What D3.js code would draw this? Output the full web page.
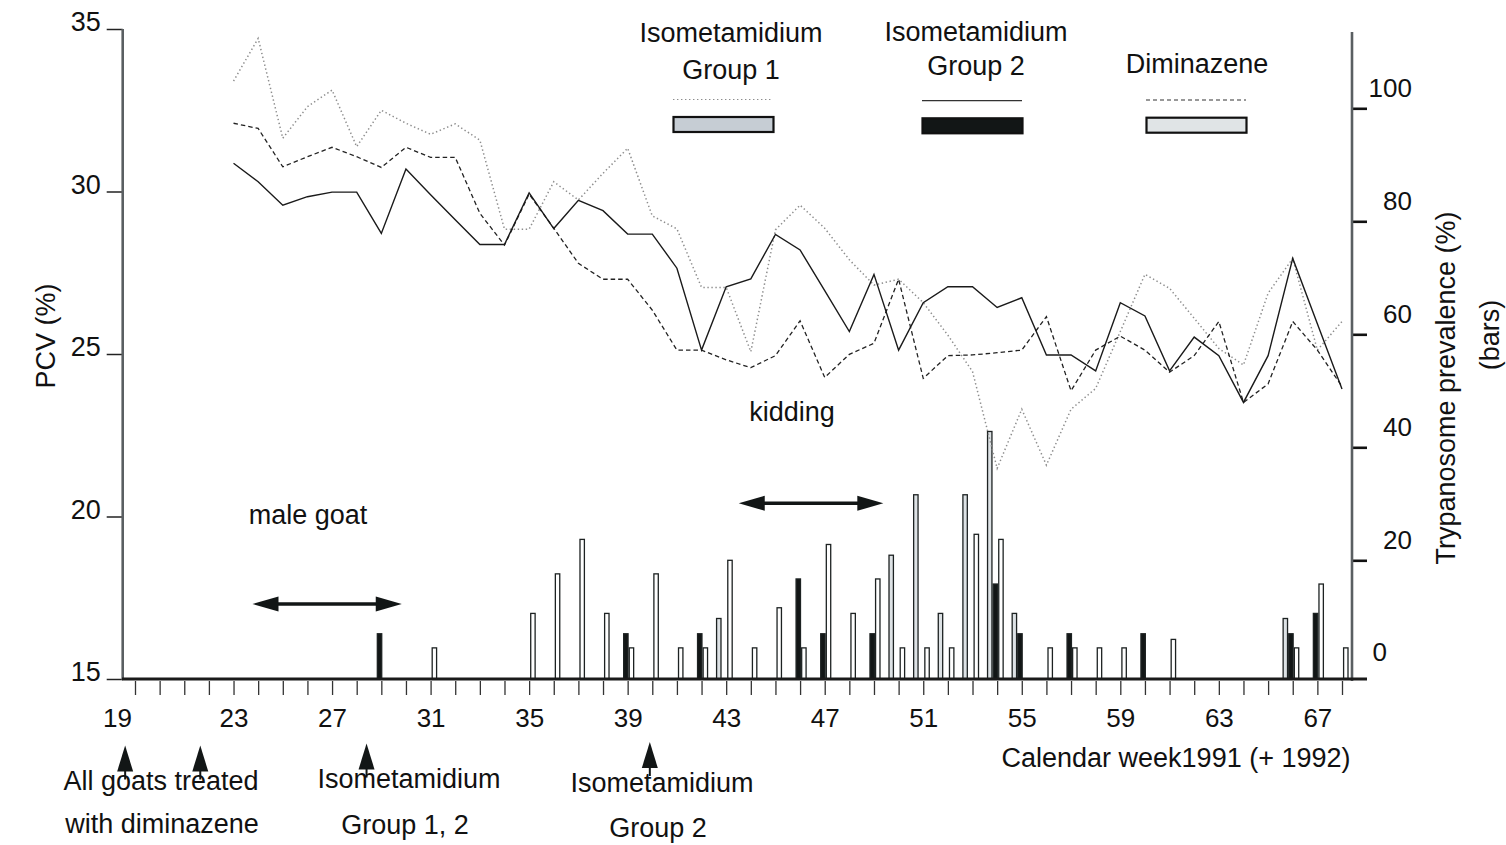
<!DOCTYPE html>
<html>
<head>
<meta charset="utf-8">
<script src="https://cdn.jsdelivr.net/npm/d3@7"></script>
<style>
  html, body { margin: 0; padding: 0; background: #ffffff; }
  svg { display: block; }
  text { font-family: "Liberation Sans", Arial, Helvetica, sans-serif; fill: #111; }
</style>
</head>
<body>
<script>
// ---------- PCV (%) per calendar week, weeks 23..68 ----------
const pcvWeeks = d3.range(23, 69);
const pcvIso1 = [33.4, 34.71, 31.64, 32.61, 33.12, 31.38, 32.5, 32.1, 31.76, 32.08, 31.58, 28.84, 28.84, 30.3, 29.74, 30.56,
  31.33, 29.25, 28.85, 27.05, 27.05, 25.07, 28.82, 29.58, 28.87, 27.9, 27.12, 27.3, 26.58, 25.58, 24.46, 21.48,
  23.3, 21.58, 23.3, 23.94, 25.69, 27.45, 27.02, 26.1, 25.17, 24.66, 26.87, 27.94, 25.12, 26.0];
const pcvIso2 = [30.87, 30.3, 29.58, 29.84, 29.98, 29.98, 28.71, 30.69, 29.9, 29.13, 28.37, 28.37, 29.96, 28.86, 29.73, 29.41,
  28.69, 28.69, 27.64, 25.12, 27.07, 27.31, 28.68, 28.2, 26.95, 25.69, 27.45, 25.12, 26.58, 27.07, 27.07, 26.43,
  26.73, 24.97, 24.97, 24.48, 26.58, 26.17, 24.48, 25.52, 24.95, 23.51, 24.95, 27.94, 25.93, 23.92];
const pcvDim = [32.1, 31.94, 30.76, 31.07, 31.36, 31.07, 30.74, 31.36, 31.05, 31.05, 29.33, 28.35, 29.92, 28.87, 27.79, 27.3,
  27.3, 26.35, 25.12, 25.12, 24.82, 24.58, 24.95, 26.02, 24.28, 24.99, 25.33, 27.3, 24.25, 24.95, 24.97, 25.04,
  25.12, 26.15, 23.87, 25.12, 25.55, 25.12, 24.44, 24.95, 26.0, 23.51, 24.08, 26.0, 25.12, 24.0];

// ---------- Trypanosome prevalence (%) per week (bars); 0 = no bar ----------
const barWeeks = [29, 31, 35, 36, 37, 38, 39, 40, 41, 42, 43, 44, 45, 46, 47, 48, 49, 50, 51, 52, 53, 54, 55, 56, 57, 58, 59, 60, 61, 66, 67, 68];
const prevIso1 = [0, 0, 0, 0, 0, 0, 0, 0, 0, 0, 9.7, 0, 0, 0, 0, 0, 0, 20.9, 31.6, 10.6, 31.6, 42.8, 10.6, 0, 0, 0, 0, 0, 0, 9.7, 0, 0];
const prevIso2 = [7, 0, 0, 0, 0, 0, 7, 0, 0, 7, 0, 0, 0, 16.7, 7, 0, 7, 0, 0, 0, 0, 15.8, 7, 0, 7, 0, 0, 7, 0, 7, 10.6, 0];
const prevDim = [0, 4.5, 10.6, 17.6, 23.7, 10.6, 4.5, 17.6, 4.5, 4.5, 20.0, 4.5, 11.6, 4.5, 22.8, 10.6, 16.7, 4.5, 4.5, 4.5, 24.6, 23.7, 0, 4.5, 4.5, 4.5, 4.5, 0, 6, 4.5, 15.8, 4.5];

// ---------- axis ticks ----------
const xTickWeeks = d3.range(19, 69);
const xLabelWeeks = d3.range(19, 69, 4);
const pcvTicks = [15, 20, 25, 30, 35];
const prevTicks = [0, 20, 40, 60, 80, 100];

// ---------- annotations ----------
const treatmentWeeks = [18.6, 21.65, 28.4, 39.9];
const maleGoatSpan = [23.77, 29.83];
const kiddingSpan = [43.51, 49.38];

const W = 1506, H = 845;
const svg = d3.select("body").append("svg").attr("width", W).attr("height", H);
svg.append("rect").attr("width", W).attr("height", H).attr("fill", "#fff");

const x = d3.scaleLinear().domain([19, 68]).range([135, 1342]);
const y = d3.scaleLinear().domain([15, 35]).range([679, 29]);
const y2 = d3.scaleLinear().domain([0, 100]).range([673.3, 108.3]);
const baseY = y(15);

// ---------- bars ----------
const bw = 5.6;
const slot = d3.scaleBand().domain(["iso1", "iso2", "dim"]).range([-2 * bw + 1, bw + 1]).padding(0);
const barSeries = [
  { key: "iso1", values: prevIso1, fill: "#dde2e5" },
  { key: "iso2", values: prevIso2, fill: "#121616" },
  { key: "dim", values: prevDim, fill: "#ffffff" }
];
const barG = svg.append("g");
barSeries.forEach(s => {
  const data = barWeeks.map((w, i) => ({ w, v: s.values[i] })).filter(d => d.v > 0);
  barG.selectAll(null).data(data).enter().append("rect")
    .attr("x", d => x(d.w) + slot(s.key) + 0.6)
    .attr("y", d => y2(d.v))
    .attr("width", slot.bandwidth() - 1.2)
    .attr("height", d => baseY - y2(d.v))
    .attr("fill", s.fill)
    .attr("stroke", "#1d2222")
    .attr("stroke-width", 1.3);
});

// ---------- PCV lines ----------
const line = d3.line().x(d => x(d[0])).y(d => y(d[1]));
const lineSeries = [
  { values: pcvIso1, stroke: "#8d8d8d", width: 1.5, dash: "1.4,2.6" },
  { values: pcvDim, stroke: "#222", width: 1.3, dash: "4.5,3" },
  { values: pcvIso2, stroke: "#1a1a1a", width: 1.4, dash: null }
];
lineSeries.forEach(s => {
  svg.append("path")
    .datum(pcvWeeks.map((w, i) => [w, s.values[i]]))
    .attr("d", line)
    .attr("fill", "none")
    .attr("stroke", s.stroke)
    .attr("stroke-width", s.width)
    .attr("stroke-dasharray", s.dash)
    .attr("stroke-linejoin", "miter");
});

// ---------- left axis (PCV) ----------
const leftAxis = svg.append("g").attr("transform", "translate(122.7,0)")
  .call(d3.axisLeft(y).tickValues(pcvTicks).tickSize(16).tickPadding(6).tickSizeOuter(0));
leftAxis.select(".domain").remove();
leftAxis.selectAll(".tick line").attr("stroke", "#222").attr("stroke-width", 1.5);
leftAxis.selectAll(".tick text").attr("font-size", 27).attr("dy", "0.06em").attr("fill", "#111");
svg.append("line").attr("x1", 122.7).attr("x2", 122.7).attr("y1", y(35)).attr("y2", baseY + 1)
  .attr("stroke", "#5a5f62").attr("stroke-width", 2.6);

// ---------- right axis (prevalence) ----------
const rightAxis = svg.append("g").attr("transform", "translate(1352,0)")
  .call(d3.axisRight(y2).tickValues(prevTicks).tickSize(15).tickSizeOuter(0));
rightAxis.select(".domain").remove();
rightAxis.selectAll(".tick line").attr("stroke", "#111").attr("stroke-width", 2.6)
  .filter(d => d === 0).remove();
rightAxis.selectAll(".tick text").attr("font-size", 26).attr("text-anchor", "end")
  .attr("x", d => d === 0 ? 35 : 60).attr("dy", d => d === 0 ? "-0.5em" : "-0.44em").attr("fill", "#111");
svg.append("line").attr("x1", 1352).attr("x2", 1352).attr("y1", 32).attr("y2", 681)
  .attr("stroke", "#5a5f62").attr("stroke-width", 2.6);

// ---------- bottom axis (calendar week) ----------
const bottomAxis = svg.append("g").attr("transform", `translate(0,${baseY})`)
  .call(d3.axisBottom(x).tickValues(xTickWeeks).tickSize(16)
    .tickFormat(d => xLabelWeeks.includes(d) ? d : ""));
bottomAxis.select(".domain").remove();
bottomAxis.selectAll(".tick line").attr("stroke", "#333").attr("stroke-width", 1.3).attr("y1", 2);
bottomAxis.selectAll(".tick text").attr("font-size", 26).attr("y", 48).attr("dy", 0).attr("fill", "#111")
  .attr("dx", d => d === 19 ? -18 : 0);
svg.append("line").attr("x1", 122).attr("x2", 1367).attr("y1", baseY).attr("y2", baseY)
  .attr("stroke", "#1a1a1a").attr("stroke-width", 3);

// ---------- axis titles ----------
svg.append("text").attr("transform", "translate(55,336) rotate(-90)")
  .attr("text-anchor", "middle").attr("font-size", 27).text("PCV (%)");
svg.append("text").attr("transform", "translate(1455,388) rotate(-90)")
  .attr("text-anchor", "middle").attr("font-size", 27).text("Trypanosome prevalence (%)");
svg.append("text").attr("transform", "translate(1499,335) rotate(-90)")
  .attr("text-anchor", "middle").attr("font-size", 27).text("(bars)");
svg.append("text").attr("x", 1176).attr("y", 767).attr("text-anchor", "middle")
  .attr("font-size", 27).text("Calendar week1991 (+ 1992)");

// ---------- legend ----------
const legendItems = [
  { lines: ["Isometamidium", "Group 1"], cx: 731, ys: [42, 79], dash: "1.4,2.6", stroke: "#8d8d8d", x0: 673, ly: 99.5, box: "#c6cdd4", by: 117 },
  { lines: ["Isometamidium", "Group 2"], cx: 976, ys: [41, 75], dash: null, stroke: "#333", x0: 922, ly: 100.7, box: "#121616", by: 118.3 },
  { lines: ["Diminazene"], cx: 1197, ys: [72.5], dash: "4,3", stroke: "#333", x0: 1146, ly: 100, box: "#e0e4e6", by: 117.7 }
];
const leg = svg.append("g");
legendItems.forEach(it => {
  it.lines.forEach((t, i) => leg.append("text").attr("x", it.cx).attr("y", it.ys[i])
    .attr("text-anchor", "middle").attr("font-size", 27).text(t));
  leg.append("line").attr("x1", it.x0).attr("x2", it.x0 + 100).attr("y1", it.ly).attr("y2", it.ly)
    .attr("stroke", it.stroke).attr("stroke-width", 1.2).attr("stroke-dasharray", it.dash);
  leg.append("rect").attr("x", it.x0 + 0.5).attr("y", it.by).attr("width", 100).attr("height", 15)
    .attr("fill", it.box).attr("stroke", "#111").attr("stroke-width", 2.2);
});

// ---------- double-headed arrows ----------
function doubleArrow(w0, w1, yy) {
  const xa = x(w0), xb = x(w1), hl = 26, hh = 7.5;
  svg.append("line").attr("x1", xa + hl - 2).attr("x2", xb - hl + 2).attr("y1", yy).attr("y2", yy)
    .attr("stroke", "#121616").attr("stroke-width", 3.6);
  svg.append("path").attr("d", `M${xa},${yy} L${xa + hl},${yy - hh} L${xa + hl},${yy + hh} Z`).attr("fill", "#121616");
  svg.append("path").attr("d", `M${xb},${yy} L${xb - hl},${yy - hh} L${xb - hl},${yy + hh} Z`).attr("fill", "#121616");
}
doubleArrow(maleGoatSpan[0], maleGoatSpan[1], 604);
doubleArrow(kiddingSpan[0], kiddingSpan[1], 503.3);
svg.append("text").attr("x", 308).attr("y", 524).attr("text-anchor", "middle").attr("font-size", 27).text("male goat");
svg.append("text").attr("x", 792).attr("y", 420.5).attr("text-anchor", "middle").attr("font-size", 27).text("kidding");

// ---------- treatment markers ----------
treatmentWeeks.forEach((w, i) => {
  const xx = x(w), tip = i === 3 ? 742 : (i === 2 ? 743.5 : 745.5);
  svg.append("path").attr("d", `M${xx},${tip} L${xx - 8},${tip + 26} L${xx + 8},${tip + 26} Z`).attr("fill", "#121616");
  svg.append("line").attr("x1", xx).attr("x2", xx).attr("y1", tip + 25).attr("y2", tip + 34)
    .attr("stroke", "#121616").attr("stroke-width", 2);
});
const notes = [
  { t: "All goats treated", cx: 161, y: 790 },
  { t: "with diminazene", cx: 162, y: 833 },
  { t: "Isometamidium", cx: 409, y: 788 },
  { t: "Group 1, 2", cx: 405, y: 834 },
  { t: "Isometamidium", cx: 662, y: 792 },
  { t: "Group 2", cx: 658, y: 837 }
];
notes.forEach(n => svg.append("text").attr("x", n.cx).attr("y", n.y).attr("text-anchor", "middle")
  .attr("font-size", 27).text(n.t));
</script>
</body>
</html>
